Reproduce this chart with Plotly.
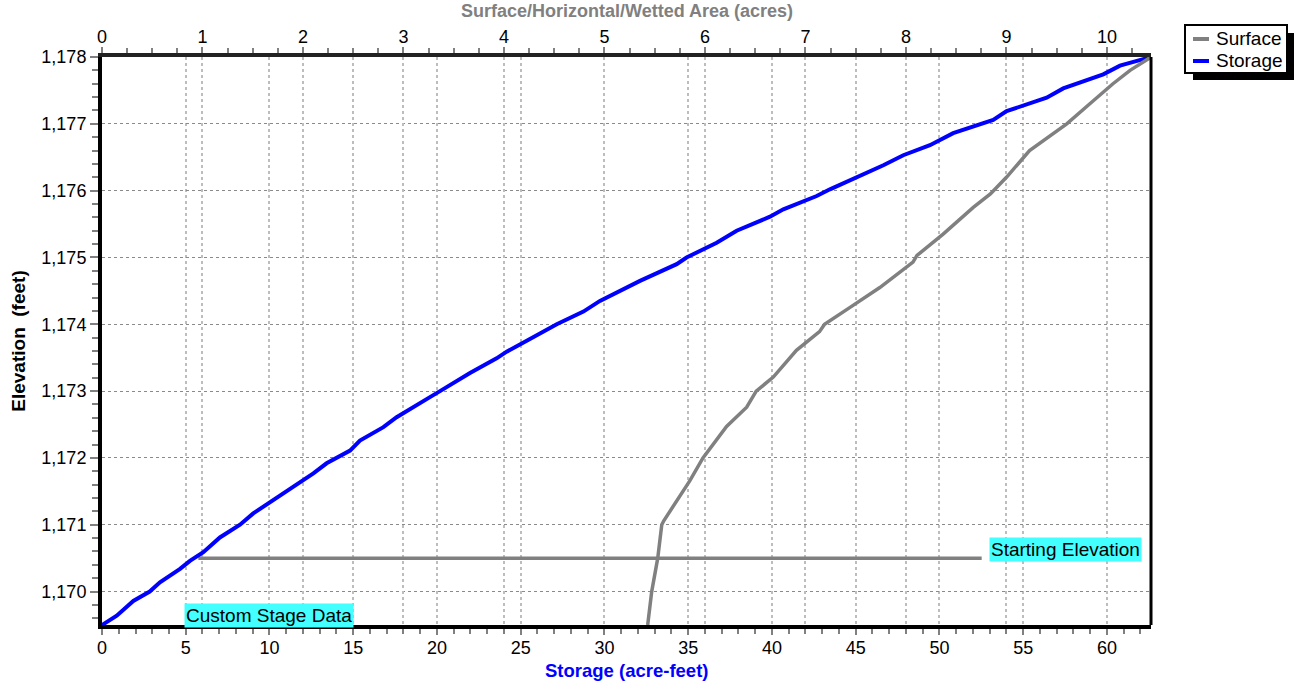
import plotly.graph_objects as go

# ---- data ----
storage_elev = [1169.5, 1169.64, 1169.86, 1170.0, 1170.14, 1170.34, 1170.46, 1170.59, 1170.81, 1171.0,
                1171.17, 1171.37, 1171.49, 1171.77, 1171.92, 1172.0, 1172.11, 1172.26, 1172.46, 1172.61,
                1172.81, 1172.91, 1173.0, 1173.09, 1173.27, 1173.49, 1173.59, 1173.78, 1174.0, 1174.19,
                1174.35, 1174.65, 1174.9, 1175.0, 1175.22, 1175.4, 1175.61, 1175.72, 1175.92, 1176.02,
                1176.2, 1176.38, 1176.53, 1176.68, 1176.86, 1177.0, 1177.06, 1177.19, 1177.39, 1177.53,
                1177.74, 1177.87, 1178.0]
storage_acft = [0.0, 0.88, 1.87, 2.85, 3.46, 4.66, 5.25, 6.05, 7.04, 8.24,
                9.03, 10.23, 11.03, 12.62, 13.41, 14.01, 14.81, 15.40, 16.80, 17.59,
                18.99, 19.58, 20.18, 20.78, 21.97, 23.56, 24.16, 25.55, 27.15, 28.74,
                29.73, 32.12, 34.31, 34.9, 36.7, 37.89, 39.88, 40.68, 42.67, 43.46,
                45.06, 46.65, 47.84, 49.43, 50.82, 52.42, 53.21, 54.01, 56.40, 57.39,
                59.78, 60.78, 62.63]

surface_elev = [1169.5, 1170.0, 1170.5, 1171.0, 1171.06, 1171.24, 1171.43, 1171.66, 1172.0, 1172.24,
                1172.47, 1172.76, 1173.0, 1173.21, 1173.61, 1173.89, 1174.0, 1174.25, 1174.55, 1174.93,
                1175.03, 1175.35, 1175.75, 1175.95, 1176.2, 1176.6, 1177.0, 1177.3, 1177.6, 1177.8, 1178.0]
surface_acres = [5.43, 5.47, 5.53, 5.57, 5.59, 5.67, 5.75, 5.85, 5.98, 6.10,
                 6.215, 6.415, 6.51, 6.68, 6.91, 7.14, 7.19, 7.44, 7.74, 8.07,
                 8.11, 8.37, 8.67, 8.84, 9.00, 9.23, 9.60, 9.83, 10.06, 10.23, 10.44]

start_elev_x = [5.75, 52.52]
start_elev_y = [1170.5, 1170.5]

storage_range = [0, 62.63]
surface_range = [0, 62.63 / 6]
elev_range = [1169.5, 1178.0]

legend_names = ["Surface", "Storage"]
legend_colors = ["#808080", "#0000FF"]

FONT = "Liberation Sans, Arial, sans-serif"
GRAY = "#808080"
FS = 19      # titles / labels
TFS = 18     # tick labels

fig = go.Figure()

fig.add_trace(go.Scatter(x=start_elev_x, y=start_elev_y, mode="lines",
                         line=dict(color=GRAY, width=3.5), showlegend=False,
                         xaxis="x", yaxis="y", hoverinfo="skip"))
fig.add_trace(go.Scatter(x=storage_acft, y=storage_elev, mode="lines", name="Storage",
                         line=dict(color="#0000FF", width=4), xaxis="x", yaxis="y",
                         showlegend=False))
fig.add_trace(go.Scatter(x=surface_acres, y=surface_elev, mode="lines", name="Surface",
                         line=dict(color=GRAY, width=3.5), xaxis="x2", yaxis="y",
                         showlegend=False))

tickfont = dict(family=FONT, size=TFS, color="black")

# plot area in pixels (for placing the legend box in paper coords)
L, R, T, B = 102, 1151, 57, 625
def px(xp):
    return (xp - L) / (R - L)
def py(yp):
    return (B - yp) / (B - T)

shapes = [
    # legend shadow
    dict(type="rect", xref="paper", yref="paper", x0=px(1193), x1=px(1294), y0=py(80), y1=py(33),
         fillcolor="black", line=dict(width=0), layer="above"),
    # legend box
    dict(type="rect", xref="paper", yref="paper", x0=px(1185), x1=px(1287), y0=py(73), y1=py(25),
         fillcolor="white", line=dict(color="black", width=2), layer="above"),
    # right frame line
    dict(type="line", xref="paper", yref="paper", x0=1, x1=1, y0=0, y1=1,
         line=dict(color="black", width=3)),
]
annotations = [
    dict(x=9.95, y=1169.64, xref="x", yref="y", text="Custom Stage Data", showarrow=False,
         bgcolor="#44FFFF", font=dict(family=FONT, size=FS, color="black"), borderpad=1),
    dict(x=57.55, y=1170.63, xref="x", yref="y", text="Starting Elevation", showarrow=False,
         bgcolor="#44FFFF", font=dict(family=FONT, size=FS, color="black"), borderpad=1),
    dict(x=0.5, y=py(11), xref="paper", yref="paper", text="Surface/Horizontal/Wetted Area (acres)",
         showarrow=False, xanchor="center", yanchor="middle",
         font=dict(family=FONT, size=18, color=GRAY, weight="bold")),
    dict(x=0.5, y=py(670), xref="paper", yref="paper", text="Storage (acre-feet)",
         showarrow=False, xanchor="center", yanchor="middle",
         font=dict(family=FONT, size=18.5, color="#0000FF", weight="bold")),
]
for i, (name, col) in enumerate(zip(legend_names, legend_colors)):
    yy = 39 + 22 * i
    shapes.append(dict(type="line", xref="paper", yref="paper", x0=px(1193), x1=px(1209),
                       y0=py(yy), y1=py(yy), line=dict(color=col, width=4), layer="above"))
    annotations.append(dict(x=px(1214), y=py(yy), xref="paper", yref="paper", text=name,
                            showarrow=False, xanchor="left", yanchor="middle",
                            font=dict(family=FONT, size=FS, color="black")))

fig.update_layout(
    width=1296, height=682,
    margin=dict(l=L, r=1296 - R, t=T, b=682 - B, autoexpand=False),
    paper_bgcolor="white", plot_bgcolor="white",
    font=dict(family=FONT, size=FS, color="black"),
    showlegend=False,
    xaxis=dict(
        range=storage_range, dtick=5, tick0=0,
        showline=True, linecolor="black", linewidth=4,
        ticks="outside", ticklen=6, tickcolor=GRAY, tickwidth=2,
        tickfont=tickfont, ticklabelposition="outside", ticklabelstandoff=-3,
        minor=dict(dtick=1, ticklen=5, tickcolor=GRAY, tickwidth=2, ticks="outside", showgrid=False),
        showgrid=True, gridcolor="#bdbdbd", gridwidth=2, griddash="dot",
        zeroline=False,
    ),
    xaxis2=dict(
        range=surface_range, dtick=1, tick0=0, overlaying="x", side="top",
        showline=True, linecolor="#222222", linewidth=4,
        ticks="outside", ticklen=6, tickcolor=GRAY, tickwidth=2,
        tickfont=tickfont, ticklabelposition="outside", ticklabelstandoff=-3,
        minor=dict(dtick=0.25, ticklen=5, tickcolor=GRAY, tickwidth=2, ticks="outside", showgrid=False),
        showgrid=True, gridcolor="#bdbdbd", gridwidth=2, griddash="dot",
        zeroline=False,
    ),
    yaxis=dict(
        range=elev_range, dtick=1, tick0=1170, tickformat=",d",
        showline=True, linecolor="black", linewidth=4,
        ticks="outside", ticklen=8, tickcolor=GRAY, tickwidth=2,
        tickfont=tickfont,
        minor=dict(dtick=0.2, ticklen=6, tickcolor=GRAY, tickwidth=2, ticks="outside", showgrid=False),
        showgrid=True, gridcolor="#8a8a8a", gridwidth=1, griddash="dot",
        zeroline=False,
        title=dict(text="Elevation\u00a0 (feet)", font=dict(family=FONT, size=FS, color="black", weight="bold"),
                   standoff=12),
    ),
    shapes=shapes,
    annotations=annotations,
)

fig.write_html("out.html")
